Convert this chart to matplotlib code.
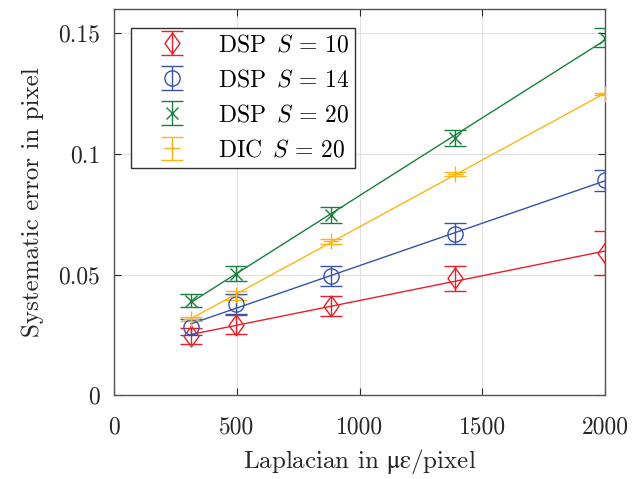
import numpy as np
import matplotlib
matplotlib.use("Agg")
import matplotlib.pyplot as plt
from matplotlib.path import Path

plt.rcParams['font.family'] = ['cmr10', 'DejaVu Serif']
plt.rcParams['mathtext.fontset'] = 'cm'
plt.rcParams['axes.formatter.use_mathtext'] = True

# data
laplacian = [313, 497, 884, 1390, 2000]

dsp10 = [0.0244, 0.0293, 0.0370, 0.0486, 0.0589]
dsp10_err = [0.0033, 0.0039, 0.0043, 0.0052, 0.0091]

dsp14 = [0.0283, 0.0380, 0.0493, 0.0670, 0.0891]
dsp14_err = [0.0033, 0.0041, 0.0041, 0.0043, 0.0043]

dsp20 = [0.0393, 0.0504, 0.0746, 0.1067, 0.1482]
dsp20_err = [0.0028, 0.0031, 0.0033, 0.0033, 0.0039]

dic20 = [0.0318, 0.0414, 0.0639, 0.0916, 0.1250]
dic20_err = [0.0008, 0.0020, 0.0010, 0.0008, 0.0004]

labels = [r'DSP $\,S\,=\,10$', r'DSP $\,S\,=\,14$',
          r'DSP $\,S\,=\,20$', r'DIC $\,S\,=\,20$']

xticks = [0, 500, 1000, 1500, 2000]
yticks = [0, 0.05, 0.1, 0.15]
yticklabels = ['0', '0.05', '0.1', '0.15']

colors = ['#e8202a', '#3553a8', '#17803a', '#fdb515']

# tall diamond like the matlab one
diamond = Path([(0, 1), (0.72, 0), (0, -1), (-0.72, 0), (0, 1)],
               [Path.MOVETO, Path.LINETO, Path.LINETO, Path.LINETO, Path.CLOSEPOLY])
markers = [diamond, 'o', 'x', '+']
msizes = [15, 11, 8, 11]

series = [(dsp10, dsp10_err), (dsp14, dsp14_err), (dsp20, dsp20_err), (dic20, dic20_err)]

fig = plt.figure(figsize=(6.43, 4.79), dpi=100)
ax = fig.add_axes([0.1773, 0.1747, 0.9409 - 0.1773, 0.9806 - 0.1747])

x = np.array(laplacian)
for (y, err), c, m, ms, lab in zip(series, colors, markers, msizes, labels):
    # linear fit through the points
    p = np.polyfit(x, y, 1)
    xf = np.array([x.min(), x.max()])
    ax.plot(xf, np.polyval(p, xf), color=c, lw=1.0, zorder=3)
    ax.errorbar(x, y, yerr=err, fmt='none', ecolor=c, elinewidth=1.0,
                capsize=8, capthick=1.0, zorder=4)
    ax.plot(x, y, linestyle='none', marker=m, ms=ms, mfc='none', mec=c,
            mew=1.0, zorder=5)

# legend handles: marker with error bar
handles = []
for c, m, ms in zip(colors, markers, msizes):
    h = ax.errorbar([np.nan], [np.nan], yerr=[1], fmt='none', ecolor=c,
                    elinewidth=1.0, capsize=8, capthick=1.0)
    pm, = ax.plot([np.nan], [np.nan], linestyle='none', marker=m, ms=ms,
                  mfc='none', mec=c, mew=1.0)
    handles.append((h, pm))

leg = ax.legend(handles, labels, loc='upper left',
                bbox_to_anchor=(130.7 / 643, 1 - 28.3 / 479),
                bbox_transform=fig.transFigure, fontsize=17,
                fancybox=False, framealpha=1, edgecolor='#303030',
                borderpad=0.25, handlelength=3.0, handletextpad=0.45,
                labelspacing=0.55, borderaxespad=0)
leg.get_frame().set_linewidth(1.0)

ax.set_xlim(0, 2000)
ax.set_ylim(0, 0.16)
ax.set_xticks(xticks)
ax.set_xticklabels([str(t) for t in xticks])
ax.set_yticks(yticks)
ax.set_yticklabels(yticklabels)
ax.tick_params(axis='both', direction='in', length=5, width=0.8, labelsize=17,
               top=True, right=True, colors='#262626', pad=10)
ax.tick_params(axis='x', pad=15)
ax.grid(True, color='#e0e0e0', lw=0.8)
ax.set_axisbelow(True)
for s in ax.spines.values():
    s.set_color('#555555')
    s.set_linewidth(1.0)

ax.set_xlabel(r'Laplacian in $\mathrm{\mu\varepsilon}$/pixel', fontsize=18,
              color='#262626', labelpad=6, math_fontfamily='stix')
ax.set_ylabel('Systematic error in pixel', fontsize=18, color='#262626', labelpad=10)

fig.savefig('out.png', dpi=100)
